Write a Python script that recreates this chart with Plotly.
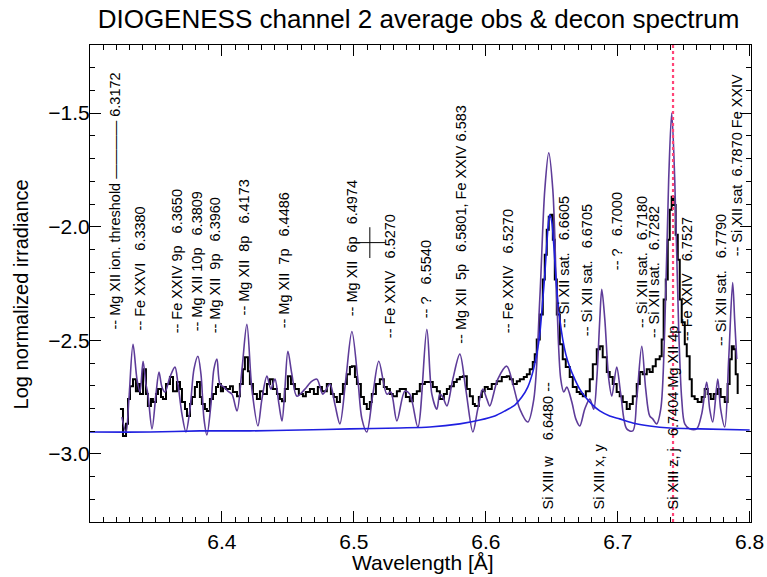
import plotly.graph_objects as go

# ---------------- data ----------------
obs_wl = [6.3227, 6.3250, 6.3273, 6.3288, 6.3303, 6.3326, 6.3348, 6.3364, 6.3379, 6.3402, 6.3424, 6.3439,
          6.3462, 6.3477, 6.3500, 6.3515, 6.3538, 6.3553, 6.3576, 6.3606, 6.3629, 6.3659, 6.3682, 6.3697,
          6.3720, 6.3735, 6.3758, 6.3773, 6.3795, 6.3811, 6.3833, 6.3848, 6.3871, 6.3886, 6.3909, 6.3932,
          6.3955, 6.3970, 6.3992, 6.4008, 6.4030, 6.4061, 6.4083, 6.4114, 6.4136, 6.4159, 6.4174, 6.4197,
          6.4212, 6.4235, 6.4265, 6.4288, 6.4311, 6.4341, 6.4364, 6.4386, 6.4417, 6.4439, 6.4455, 6.4477,
          6.4500, 6.4523, 6.4553, 6.4583, 6.4614, 6.4636, 6.4667, 6.4697, 6.4727, 6.4758, 6.4795, 6.4826,
          6.4848, 6.4871, 6.4894, 6.4917, 6.4947, 6.4970, 6.4985, 6.5008, 6.5023, 6.5053, 6.5076, 6.5098,
          6.5121, 6.5136, 6.5167, 6.5197, 6.5227, 6.5250, 6.5273, 6.5295, 6.5326, 6.5348, 6.5371, 6.5394,
          6.5424, 6.5447, 6.5477, 6.5500, 6.5538, 6.5576, 6.5598, 6.5629, 6.5652, 6.5682, 6.5705, 6.5727,
          6.5758, 6.5780, 6.5803, 6.5826, 6.5856, 6.5879, 6.5902, 6.5917, 6.5947, 6.5970, 6.5992, 6.6015,
          6.6045, 6.6083, 6.6121, 6.6159, 6.6182, 6.6205, 6.6235, 6.6258, 6.6288, 6.6311, 6.6333, 6.6356,
          6.6371, 6.6386, 6.6409, 6.6432, 6.6447, 6.6462, 6.6477, 6.6492, 6.6508, 6.6523, 6.6538, 6.6561,
          6.6583, 6.6606, 6.6636, 6.6659, 6.6689, 6.6712, 6.6735, 6.6758, 6.6788, 6.6811, 6.6841, 6.6864,
          6.6886, 6.6917, 6.6939, 6.6962, 6.6992, 6.7015, 6.7038, 6.7068, 6.7091, 6.7114, 6.7144, 6.7167,
          6.7189, 6.7220, 6.7242, 6.7265, 6.7288, 6.7318, 6.7333, 6.7348, 6.7364, 6.7379, 6.7394, 6.7409,
          6.7424, 6.7439, 6.7455, 6.7470, 6.7485, 6.7508, 6.7523, 6.7545, 6.7561, 6.7583, 6.7606, 6.7636,
          6.7659, 6.7682, 6.7705, 6.7727, 6.7758, 6.7780, 6.7811, 6.7833, 6.7848, 6.7864, 6.7879, 6.7894,
          6.7909]
obs_val = [-2.803, -2.921, -2.868, -2.759, -2.702, -2.671, -2.724, -2.693, -2.737, -2.627, -2.737, -2.789,
           -2.759, -2.772, -2.737, -2.715, -2.750, -2.759, -2.693, -2.662, -2.724, -2.684, -2.715, -2.772,
           -2.803, -2.833, -2.781, -2.750, -2.706, -2.684, -2.750, -2.781, -2.803, -2.811, -2.759, -2.737,
           -2.706, -2.693, -2.724, -2.706, -2.715, -2.702, -2.728, -2.746, -2.693, -2.627, -2.575, -2.636,
           -2.693, -2.737, -2.759, -2.724, -2.737, -2.693, -2.671, -2.715, -2.737, -2.759, -2.768, -2.715,
           -2.658, -2.693, -2.715, -2.737, -2.746, -2.728, -2.715, -2.737, -2.706, -2.724, -2.693, -2.737,
           -2.750, -2.772, -2.737, -2.693, -2.649, -2.618, -2.614, -2.662, -2.693, -2.750, -2.781, -2.803,
           -2.772, -2.737, -2.693, -2.671, -2.706, -2.715, -2.737, -2.746, -2.724, -2.715, -2.715, -2.750,
           -2.768, -2.737, -2.724, -2.693, -2.684, -2.684, -2.706, -2.724, -2.759, -2.737, -2.715, -2.702,
           -2.684, -2.671, -2.662, -2.658, -2.715, -2.746, -2.781, -2.789, -2.750, -2.724, -2.706, -2.715,
           -2.693, -2.680, -2.662, -2.658, -2.671, -2.693, -2.680, -2.671, -2.662, -2.649, -2.627, -2.596,
           -2.561, -2.496, -2.386, -2.232, -2.123, -2.013, -1.956, -1.947, -2.057, -2.232, -2.386, -2.518,
           -2.583, -2.618, -2.662, -2.706, -2.728, -2.737, -2.746, -2.724, -2.671, -2.605, -2.539, -2.526,
           -2.575, -2.640, -2.662, -2.693, -2.728, -2.746, -2.772, -2.803, -2.781, -2.746, -2.693, -2.640,
           -2.649, -2.627, -2.640, -2.614, -2.583, -2.570, -2.496, -2.320, -2.232, -2.057, -1.925, -1.868,
           -1.904, -2.035, -2.145, -2.320, -2.421, -2.518, -2.570, -2.671, -2.746, -2.759, -2.772, -2.750,
           -2.715, -2.737, -2.759, -2.737, -2.715, -2.750, -2.772, -2.693, -2.583, -2.526, -2.539, -2.649,
           -2.737]

decon_wl = [6.3242, 6.3273, 6.3295, 6.3326, 6.3356, 6.3379, 6.3402, 6.3424, 6.3439, 6.3470, 6.3500, 6.3523,
            6.3545, 6.3568, 6.3606, 6.3644, 6.3667, 6.3697, 6.3727, 6.3758, 6.3788, 6.3818, 6.3841, 6.3864,
            6.3886, 6.3917, 6.3939, 6.3962, 6.3985, 6.4015, 6.4045, 6.4076, 6.4114, 6.4152, 6.4189, 6.4227,
            6.4273, 6.4303, 6.4341, 6.4371, 6.4402, 6.4432, 6.4455, 6.4477, 6.4500, 6.4530, 6.4568, 6.4629,
            6.4674, 6.4720, 6.4765, 6.4818, 6.4856, 6.4894, 6.4939, 6.4985, 6.5030, 6.5061, 6.5098, 6.5144,
            6.5189, 6.5250, 6.5280, 6.5326, 6.5386, 6.5424, 6.5485, 6.5553, 6.5591, 6.5629, 6.5652, 6.5674,
            6.5705, 6.5750, 6.5803, 6.5848, 6.5902, 6.5939, 6.5977, 6.6008, 6.6030, 6.6091, 6.6159, 6.6205,
            6.6258, 6.6318, 6.6364, 6.6409, 6.6447, 6.6477, 6.6508, 6.6538, 6.6568, 6.6591, 6.6614, 6.6652,
            6.6682, 6.6712, 6.6750, 6.6788, 6.6818, 6.6841, 6.6864, 6.6879, 6.6902, 6.6932, 6.6955, 6.6992,
            6.7023, 6.7068, 6.7114, 6.7144, 6.7182, 6.7212, 6.7242, 6.7265, 6.7295, 6.7326, 6.7356, 6.7386,
            6.7409, 6.7432, 6.7462, 6.7485, 6.7508, 6.7545, 6.7598, 6.7636, 6.7674, 6.7697, 6.7720, 6.7758,
            6.7780, 6.7811, 6.7841, 6.7871, 6.7886, 6.7902]
decon_val = [-2.838, -2.904, -2.759, -2.518, -2.671, -2.728, -2.592, -2.693, -2.737, -2.890, -2.737, -2.640,
             -2.706, -2.728, -2.662, -2.618, -2.693, -2.825, -2.904, -2.803, -2.627, -2.570, -2.649, -2.846,
             -2.917, -2.781, -2.627, -2.583, -2.693, -2.706, -2.724, -2.737, -2.811, -2.627, -2.430, -2.715,
             -2.877, -2.759, -2.658, -2.715, -2.671, -2.781, -2.855, -2.715, -2.548, -2.649, -2.746, -2.715,
             -2.684, -2.671, -2.737, -2.693, -2.781, -2.868, -2.671, -2.461, -2.671, -2.846, -2.904, -2.737,
             -2.592, -2.737, -2.728, -2.855, -2.724, -2.737, -2.882, -2.452, -2.737, -2.803, -2.737, -2.750,
             -2.789, -2.671, -2.561, -2.715, -2.904, -2.803, -2.715, -2.759, -2.789, -2.671, -2.614, -2.693,
             -2.803, -2.860, -2.759, -2.320, -1.838, -1.675, -1.838, -2.320, -2.671, -2.728, -2.706, -2.772,
             -2.846, -2.877, -2.803, -2.759, -2.803, -2.671, -2.408, -2.276, -2.408, -2.671, -2.746, -2.618,
             -2.737, -2.890, -2.899, -2.759, -2.526, -2.715, -2.833, -2.846, -2.868, -2.803, -2.452, -1.794,
             -1.500, -1.794, -2.452, -2.759, -2.868, -2.890, -2.890, -2.825, -2.684, -2.803, -2.860, -2.671,
             -2.803, -2.882, -2.583, -2.246, -2.408, -2.583]

fit_wl = [6.3000, 6.3455, 6.3833, 6.4212, 6.4591, 6.4970, 6.5348, 6.5576, 6.5803, 6.5955, 6.6068, 6.6144,
          6.6220, 6.6273, 6.6318, 6.6356, 6.6386, 6.6409, 6.6432, 6.6447, 6.6462, 6.6477, 6.6485, 6.6500,
          6.6515, 6.6530, 6.6545, 6.6561, 6.6583, 6.6606, 6.6636, 6.6674, 6.6712, 6.6750, 6.6803, 6.6864,
          6.6939, 6.7015, 6.7114, 6.7242, 6.7394, 6.7621, 6.8000]
fit_val = [-2.904, -2.904, -2.899, -2.899, -2.895, -2.890, -2.886, -2.882, -2.868, -2.851, -2.833, -2.811,
           -2.785, -2.750, -2.706, -2.640, -2.561, -2.474, -2.320, -2.211, -2.079, -1.969, -1.947, -1.978,
           -2.079, -2.211, -2.320, -2.408, -2.496, -2.561, -2.618, -2.671, -2.715, -2.746, -2.781, -2.811,
           -2.833, -2.846, -2.864, -2.877, -2.886, -2.890, -2.895]

marked_line_wl = [6.7419]
cursor_pt = [6.5121, -2.070]

label_text = [
    "-- Mg XII ion. threshold ———— 6.3172",
    "-- Fe XXVI   6.3380",
    "-- Fe XXIV 9p   6.3650",
    "-- Mg XII 10p   6.3809",
    "-- Mg XII  9p   6.3960",
    "-- Mg XII  8p   6.4173",
    "-- Mg XII  7p   6.4486",
    "-- Mg XII  6p   6.4974",
    "-- Fe XXIV   6.5270",
    "-- ?   6.5540",
    "-- Mg XII  5p   6.5801, Fe XXIV 6.583",
    "-- Fe XXIV   6.5270",
    "-- Si XII sat.   6.6605",
    "-- Si XII sat.   6.6705",
    "-- ?   6.7000",
    "-- Si XII sat.   6.7180",
    "-- Si XII sat.   6.7282",
    "-- Fe XXIV   6.7527",
    "-- Si XII sat.   6.7790",
    "-- Si XII sat  6.7870 Fe XXIV",
    "Si XIII w    6.6480 --",
    "Si XIII x, y",
    "Si XIII z, j   6.7404 Mg XII 4p",
]
label_x = [6.3189, 6.3379, 6.3659, 6.3811, 6.3947, 6.4167, 6.4470, 6.4985, 6.5280, 6.5553, 6.5811, 6.6174,
           6.6598, 6.6773, 6.7000, 6.7189, 6.7280, 6.7530, 6.7788, 6.7902, 6.6470, 6.6856, 6.7417]
label_y = [-2.455, -2.461, -2.474, -2.465, -2.474, -2.395, -2.452, -2.399, -2.496, -2.408, -2.518, -2.474,
           -2.452, -2.487, -2.197, -2.452, -2.496, -2.509, -2.531, -2.136, -3.250, -3.250, -3.250]

# ---------------- figure ----------------
FONT = "Liberation Sans, Arial, Helvetica, sans-serif"
fig = go.Figure()

fig.add_trace(go.Scatter(x=obs_wl, y=obs_val, mode="lines", line=dict(color="black", width=2.0, shape="hv"),
                         showlegend=False, hoverinfo="skip"))
fig.add_trace(go.Scatter(x=decon_wl, y=decon_val, mode="lines",
                         line=dict(color="#5E3C99", width=1.6, shape="spline", smoothing=0.9),
                         showlegend=False, hoverinfo="skip"))
fig.add_trace(go.Scatter(x=fit_wl, y=fit_val, mode="lines",
                         line=dict(color="#1F1FE0", width=1.6, shape="spline", smoothing=0.8),
                         showlegend=False, hoverinfo="skip"))
fig.add_trace(go.Scatter(x=[cursor_pt[0]], y=[cursor_pt[1]], mode="markers",
                         marker=dict(symbol="cross-thin", size=22, line=dict(color="black", width=1)),
                         showlegend=False, hoverinfo="skip"))

for wl in marked_line_wl:
    fig.add_shape(type="line", xref="x", yref="paper", x0=wl, x1=wl, y0=0, y1=1,
                  line=dict(color="#FF4477", width=2.2, dash="dot"))

for t, x, y in zip(label_text, label_x, label_y):
    fig.add_annotation(x=x, y=y, xref="x", yref="y", text=t.replace(" ", "\u00a0"), textangle=-90,
                       showarrow=False, xanchor="center", yanchor="bottom",
                       font=dict(family=FONT, size=14.5, color="black"), borderpad=0)

fig.add_annotation(text="Wavelength [Å]", xref="paper", yref="paper", x=0.504, y=-0.084,
                   xanchor="center", yanchor="middle", showarrow=False,
                   font=dict(family=FONT, size=21, color="black"))
fig.add_annotation(text="Log normalized irradiance", xref="paper", yref="paper", x=-0.103, y=0.477,
                   xanchor="center", yanchor="middle", showarrow=False, textangle=-90,
                   font=dict(family=FONT, size=20, color="black"))

axis_common = dict(showline=True, linecolor="black", linewidth=1, mirror="ticks", ticks="inside",
                   tickcolor="black", showgrid=False, zeroline=False, automargin=False,
                   tickfont=dict(family=FONT, size=21, color="black"))

fig.update_xaxes(range=[6.3, 6.801], tickvals=[6.4, 6.5, 6.6, 6.7, 6.8], ticktext=["6.4", "6.5", "6.6", "6.7", "6.8"],
                 ticklen=11, tickwidth=1,
                 minor=dict(ticks="inside", dtick=0.01, tick0=6.3, ticklen=5, tickcolor="black", showgrid=False),
                 ticklabelstandoff=1, **axis_common)
fig.update_yaxes(range=[-3.3, -1.2], tickvals=[-3.0, -2.5, -2.0, -1.5], tickformat=".1f",
                 ticklen=11, tickwidth=1,
                 minor=dict(ticks="inside", dtick=0.1, tick0=-3.0, ticklen=5, tickcolor="black", showgrid=False),
                 ticklabelstandoff=-5, **axis_common)

fig.update_layout(
    width=767, height=577,
    margin=dict(l=90, r=16, t=45, b=55, autoexpand=False),
    paper_bgcolor="white", plot_bgcolor="white",
    title=dict(text="DIOGENESS channel 2 average obs & decon spectrum", xref="paper", x=0.497, xanchor="center",
               y=0.968, yanchor="middle", font=dict(family=FONT, size=26, color="black")),
    showlegend=False,
)

fig.write_html("out.html", config={"displayModeBar": False},
               post_script="document.body.style.margin='0px';")
